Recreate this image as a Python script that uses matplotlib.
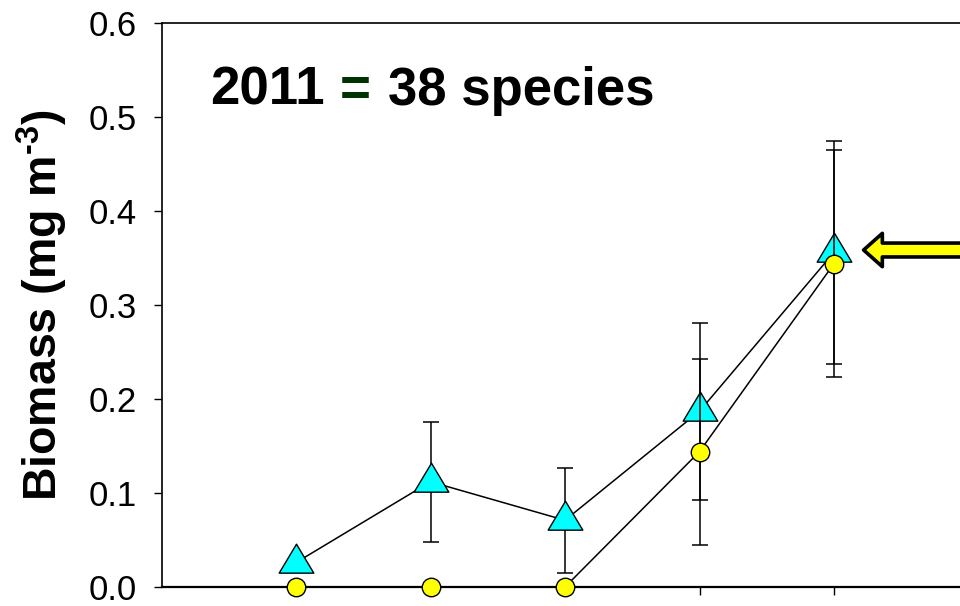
import numpy as np
import matplotlib
matplotlib.use("Agg")
import matplotlib.pyplot as plt
from matplotlib.path import Path
from matplotlib.markers import MarkerStyle

plt.rcParams['font.family'] = ['Liberation Sans', 'DejaVu Sans']
plt.rcParams['mathtext.fontset'] = 'custom'
plt.rcParams['mathtext.rm'] = 'Liberation Sans:bold'
plt.rcParams['mathtext.bf'] = 'Liberation Sans:bold'

# data
x_pos = [1, 2, 3, 4, 5]
tri_vals = [0.026, 0.112, 0.071, 0.187, 0.356]
tri_err = [0.0, 0.064, 0.056, 0.094, 0.119]
circ_vals = [0.0, 0.0, 0.0, 0.144, 0.344]
circ_err = [0.0, 0.0, 0.0, 0.099, 0.121]
y_ticks = [0.0, 0.1, 0.2, 0.3, 0.4, 0.5, 0.6]

fig = plt.figure(figsize=(9.6, 6.06), dpi=100)
# axes placed in pixels: x=0 -> 161.5px, 134.5px per unit, y 0..0.6 -> 587..23
ax = fig.add_axes([161.5 / 960, 19 / 606, 6 * 134.5 / 960, 564 / 606])
ax.set_xlim(0, 6)
ax.set_ylim(0, 0.6)

# triangle marker centred on its centroid (like the original software)
tri_path = Path([(0, 19.33), (-17.35, -9.67), (17.35, -9.67), (0, 19.33)], closed=True)
tri_marker = MarkerStyle(tri_path)

ax.errorbar(x_pos, tri_vals, yerr=tri_err, fmt='none', ecolor='black',
            elinewidth=1.1, capsize=5.8, capthick=1.1, zorder=3, clip_on=False)
ax.plot(x_pos, tri_vals, color='black', lw=1.1, marker=tri_marker, ms=27.8,
        mfc='#00FFFF', mec='black', mew=1.0, zorder=4, clip_on=False)
ax.errorbar(x_pos, circ_vals, yerr=circ_err, fmt='none', ecolor='black',
            elinewidth=1.1, capsize=5.8, capthick=1.1, zorder=5, clip_on=False)
ax.plot(x_pos, circ_vals, color='black', lw=1.1, marker='o', ms=13.3,
        mfc='#FFFF00', mec='black', mew=1.0, zorder=6, clip_on=False)

ax.set_yticks(y_ticks)
ax.set_yticklabels([f"{v:.1f}" for v in y_ticks])
ax.set_xticks(x_pos)
ax.set_xticklabels([])
ax.tick_params(axis='y', direction='out', length=5.8, width=1.0, pad=12, labelsize=25)
ax.tick_params(axis='x', direction='out', length=5.8, width=1.0)
ax.spines['right'].set_visible(False)
for s in ['left', 'top']:
    ax.spines[s].set_linewidth(1.2)
ax.spines['bottom'].set_linewidth(1.6)

ax.set_ylabel("Biomass (mg m$^{\\text{-3}}$)", fontsize=33.5, fontweight='bold', labelpad=13)

# title with green equals sign
t1 = fig.text(210 / 960, 1 - 105 / 606, "2011", fontsize=38, fontweight='bold',
              color='black', va='baseline')
t2 = ax.annotate("=", xy=(1, 0), xycoords=t1, xytext=(15, 0), textcoords='offset pixels',
                 fontsize=38, fontweight='bold', color='#003300', va='bottom')
t3 = ax.annotate("38 species", xy=(1, 0), xycoords=t2, xytext=(17, 0), textcoords='offset pixels',
                 fontsize=38, fontweight='bold', color='black', va='bottom')

# yellow arrow pointing at the last point
ax.annotate('', xy=(5.22, 0.3585), xytext=(6.3, 0.3585),
            arrowprops=dict(arrowstyle='simple,head_length=1.35,head_width=2.4,tail_width=1.0',
                            fc='#FFFF00', ec='black', lw=2.6, joinstyle='round',
                            mutation_scale=10, shrinkA=0, shrinkB=0),
            annotation_clip=False)

fig.savefig("out.png", dpi=100)
